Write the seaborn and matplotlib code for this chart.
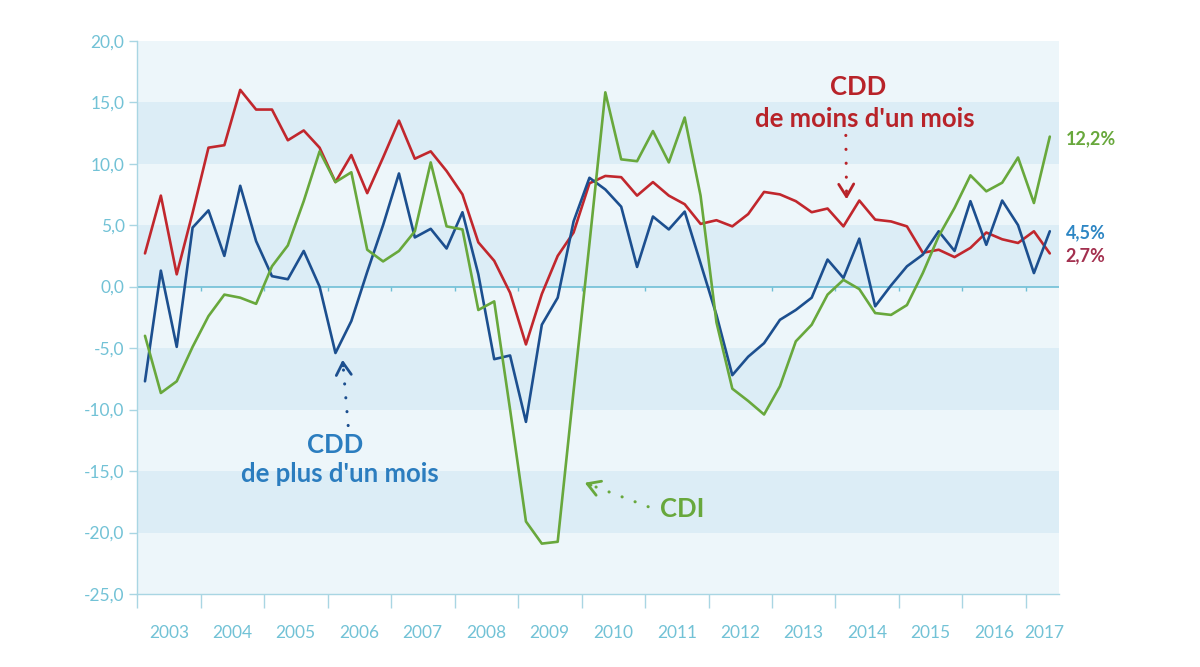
import numpy as np
import pandas as pd
import matplotlib
matplotlib.use("Agg")
import matplotlib.pyplot as plt
import seaborn as sns

# ---------------- data (quarterly growth, %, 2003Q1 .. 2017Q2) ----------------
years = [str(y) for y in range(2003, 2018)]
quarters_per_year = 4

cdd_moins = [2.7, 7.4, 1.0, 6.0, 11.3, 11.5, 16.0, 14.4, 14.4, 11.9, 12.7, 11.3,
             8.5, 10.7, 7.6, 10.5, 13.5, 10.4, 11.0, 9.4, 7.5, 3.6, 2.1, -0.5,
             -4.7, -0.6, 2.5, 4.4, 8.4, 9.0, 8.9, 7.4, 8.5, 7.4, 6.7, 5.1,
             5.4, 4.9, 5.9, 7.7, 7.5, 6.95, 6.05, 6.35, 4.9, 7.0, 5.45, 5.3,
             4.9, 2.75, 3.0, 2.4, 3.15, 4.4, 3.85, 3.55, 4.5, 2.7]

cdd_plus = [-7.7, 1.3, -4.9, 4.8, 6.2, 2.5, 8.2, 3.7, 0.85, 0.6, 2.9, 0.0,
            -5.4, -2.8, 1.2, 5.0, 9.2, 4.0, 4.7, 3.1, 6.05, 1.0, -5.9, -5.6,
            -11.0, -3.1, -0.9, 5.3, 8.85, 7.9, 6.5, 1.6, 5.7, 4.65, 6.1, 1.9,
            -2.3, -7.2, -5.7, -4.6, -2.7, -1.9, -0.9, 2.2, 0.7, 3.9, -1.6, 0.1,
            1.65, 2.6, 4.5, 2.9, 6.95, 3.4, 7.0, 5.0, 1.1, 4.5]

cdi = [-4.0, -8.65, -7.7, -4.9, -2.4, -0.65, -0.9, -1.4, 1.65, 3.35, 6.95, 11.0,
       8.5, 9.3, 3.0, 2.05, 2.9, 4.5, 10.1, 4.9, 4.65, -1.9, -1.2, -10.0,
       -19.1, -20.9, -20.75, -8.5, 3.5, 15.8, 10.35, 10.2, 12.65, 10.1, 13.75, 7.4,
       -2.9, -8.3, -9.3, -10.4, -8.1, -4.45, -3.1, -0.65, 0.55, -0.2, -2.15, -2.3,
       -1.5, 1.1, 4.1, 6.4, 9.05, 7.75, 8.45, 10.5, 6.8, 12.2]

series_names = ["CDD de moins d'un mois", "CDD de plus d'un mois", "CDI"]
end_labels = ["2,7%", "4,5%", "12,2%"]
y_ticks = [20, 15, 10, 5, 0, -5, -10, -15, -20, -25]
y_tick_labels = ["20,0", "15,0", "10,0", "5,0", "0,0", "-5,0", "-10,0", "-15,0", "-20,0", "-25,0"]

# ---------------- styling ----------------
RED = "#c1272d"
BLUE = "#1c4f8f"
GREEN = "#68a83c"
TICK_C = "#72c2d6"
AXIS_C = "#a9d6e3"
ZERO_C = "#6fbfd6"
BAND_LIGHT = "#edf6fa"
BAND_DARK = "#dcedf6"

sns.set_theme(style="white")
plt.rcParams["font.family"] = ["Lato", "DejaVu Sans"]

n = len(cdi)
idx = np.arange(n)
df = pd.concat([
    pd.DataFrame({"q": idx, "val": cdd_moins, "serie": series_names[0]}),
    pd.DataFrame({"q": idx, "val": cdd_plus, "serie": series_names[1]}),
    pd.DataFrame({"q": idx, "val": cdi, "serie": series_names[2]}),
])

fig = plt.figure(figsize=(12, 6.67), dpi=100)
ax = fig.add_axes([0.1142, 0.1094, 0.7683, 0.8296])

ymin, ymax = -25, 20
for lo in range(ymin, ymax, 5):
    dark = (lo // 5) % 2 == 0
    ax.axhspan(lo, lo + 5, color=BAND_DARK if dark else BAND_LIGHT, lw=0, zorder=0)

ax.axhline(0, color=ZERO_C, lw=1.2, zorder=1)

sns.lineplot(data=df, x="q", y="val", hue="serie", hue_order=series_names,
             palette=[RED, BLUE, GREEN], linewidth=1.9, legend=False,
             sort=False, ax=ax, zorder=3)

xmin, xmax = -0.5, n - 0.42
ax.set_xlim(xmin, xmax)
ax.set_ylim(ymin, ymax)

bounds = [-0.5 + quarters_per_year * k for k in range(len(years))]
centers = [b + 2 for b in bounds[:-1]] + [(bounds[-1] + xmax) / 2 + 0.1]
ax.set_xticks(bounds)
ax.set_xticklabels([])
ax.set_xticks(centers, minor=True)
ax.set_xticklabels(years, minor=True)
ax.tick_params(axis="x", which="major", direction="out", length=10, width=1,
               color=AXIS_C, bottom=True)
ax.tick_params(axis="x", which="minor", length=0, pad=22, labelsize=12.5,
               labelcolor=TICK_C, bottom=True)
ax.vlines(bounds[1:], -0.35, 0, color=ZERO_C, lw=1, zorder=1)

ax.set_yticks(y_ticks)
ax.set_yticklabels(y_tick_labels)
ax.tick_params(axis="y", direction="out", length=6, width=1, color=AXIS_C,
               labelsize=12.5, labelcolor=TICK_C, pad=3, left=True)

for s in ["top", "right"]:
    ax.spines[s].set_visible(False)
for s in ["left", "bottom"]:
    ax.spines[s].set_color(AXIS_C)
    ax.spines[s].set_linewidth(1)
ax.set_xlabel("")
ax.set_ylabel("")


def dotted_arrow(tip, start, color, head_from):
    ax.annotate("", xy=tip, xytext=start,
                arrowprops=dict(arrowstyle="-", color=color, lw=2.2,
                                linestyle=(0, (0.05, 4.5)), capstyle="round",
                                shrinkA=0, shrinkB=4))
    ax.annotate("", xy=tip, xytext=head_from,
                arrowprops=dict(arrowstyle="->,head_length=0.75,head_width=0.45",
                                color=color, lw=2.0, shrinkA=0, shrinkB=0))


FS = 18.5
RED_T = "#b82329"
BLUE_T = "#2b7dbf"
ax.text(44.95, 16.25, "CDD", color=RED_T, fontsize=FS, fontweight="bold",
        ha="center", va="center")
ax.text(45.35, 13.65, "de moins d'un mois", color=RED_T, fontsize=FS,
        fontweight="bold", ha="center", va="center")
dotted_arrow((44.2, 7.1), (44.15, 12.3), RED_T, (44.19, 7.6))

ax.text(11.95, -12.9, "CDD", color=BLUE_T, fontsize=FS, fontweight="bold",
        ha="center", va="center")
ax.text(12.3, -15.25, "de plus d'un mois", color=BLUE_T, fontsize=FS,
        fontweight="bold", ha="center", va="center")
dotted_arrow((12.45, -5.95), (12.8, -11.3), BLUE, (12.48, -6.45))

ax.text(33.85, -18.05, "CDI", color=GREEN, fontsize=FS, fontweight="bold",
        ha="center", va="center")
dotted_arrow((27.7, -15.95), (31.7, -17.9), GREEN, (28.1, -16.15))

end_colors = ["#a3304f", "#2d86c4", GREEN]
end_y = [2.5, 4.4, 12.0]
for lab, c, yy in zip(end_labels, end_colors, end_y):
    ax.text(1.007, yy, lab, transform=ax.get_yaxis_transform(), color=c,
            fontsize=13, fontweight="bold", ha="left", va="center", clip_on=False)

fig.savefig("out.png", dpi=100, facecolor="white")
